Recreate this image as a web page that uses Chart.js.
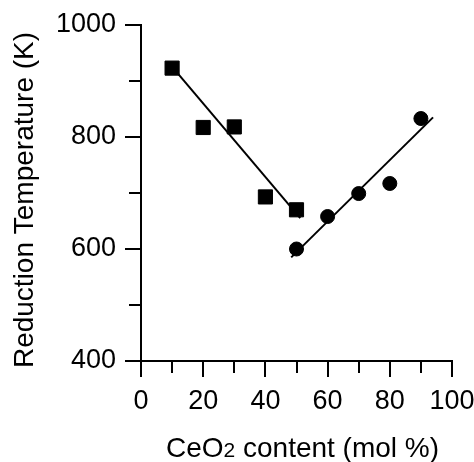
<!DOCTYPE html>
<html>
<head>
<meta charset="utf-8">
<script src="https://cdn.jsdelivr.net/npm/chart.js@4/dist/chart.umd.min.js"></script>
<style>
  html, body { margin: 0; padding: 0; background: #fff; }
  #wrap { width: 474px; height: 462px; }
</style>
</head>
<body>
<div id="wrap"><canvas id="chart" width="474" height="462"></canvas></div>
<script>
// CeO2-rich vs. CeO2-poor samples: reduction temperature against composition
const ceo2Squares = [10, 20, 30, 40, 50];
const tempSquares = [923, 817, 818, 693, 670];
const ceo2Circles = [50, 60, 70, 80, 90];
const tempCircles = [600, 658, 699, 717, 833];

// straight-line fits through each branch (end points)
const fitLeftX = [9.9, 51.2];
const fitLeftY = [926, 655];
const fitRightX = [48.3, 93.9];
const fitRightY = [585, 835];

// axis ticks
const xMajorTicks = [0, 20, 40, 60, 80, 100];
const xMinorTicks = [10, 30, 50, 70, 90];
const yMajorTicks = [400, 600, 800, 1000];
const yMinorTicks = [500, 700, 900];

const yTitle = 'Reduction Temperature (K)';
const xTitleParts = [
  { text: 'CeO', small: false },
  { text: '2', small: true },
  { text: ' content (mol %)', small: false }
];

const FONT = "'Liberation Sans', Arial, Helvetica, sans-serif";
const toPoints = (xs, ys) => xs.map((x, i) => ({ x: x, y: ys[i] }));

// shorter minor ticks and the two axis titles
const extras = {
  id: 'extras',
  afterDraw(chart) {
    const { ctx, chartArea, scales } = chart;
    ctx.save();
    ctx.strokeStyle = '#000';
    ctx.lineWidth = 2;
    ctx.beginPath();
    xMinorTicks.forEach(v => {
      const px = Math.round(scales.x.getPixelForValue(v));
      ctx.moveTo(px, chartArea.bottom);
      ctx.lineTo(px, chartArea.bottom + 12);
    });
    yMinorTicks.forEach(v => {
      const py = Math.round(scales.y.getPixelForValue(v));
      ctx.moveTo(chartArea.left, py);
      ctx.lineTo(chartArea.left - 12, py);
    });
    ctx.stroke();

    ctx.fillStyle = '#000';
    ctx.textBaseline = 'alphabetic';

    // y title, rotated
    ctx.save();
    ctx.translate(33, chartArea.top + 175);
    ctx.rotate(-Math.PI / 2);
    ctx.font = '28px ' + FONT;
    ctx.textAlign = 'center';
    ctx.fillText(yTitle, 0, 0);
    ctx.restore();

    // x title with the smaller "2"
    const big = '28px ' + FONT, small = '21px ' + FONT;
    let total = 0;
    xTitleParts.forEach(p => { ctx.font = p.small ? small : big; total += ctx.measureText(p.text).width; });
    let x = 302.5 - total / 2;
    const baseY = 457;
    ctx.textAlign = 'left';
    xTitleParts.forEach(p => {
      ctx.font = p.small ? small : big;
      ctx.fillText(p.text, x, baseY);
      x += ctx.measureText(p.text).width;
    });
    ctx.restore();
  }
};

const axisCommon = {
  type: 'linear',
  grid: { drawOnChartArea: false, drawTicks: true, tickLength: 16, lineWidth: 2, color: '#000' },
  border: { display: true, color: '#000', width: 2 },
  ticks: { color: '#000', font: { family: FONT, size: 27 }, maxRotation: 0, autoSkip: false, callback: v => String(v) }
};

new Chart(document.getElementById('chart'), {
  type: 'scatter',
  data: {
    datasets: [
      { data: toPoints(ceo2Squares, tempSquares), pointStyle: 'rect', pointRadius: 10, pointHoverRadius: 10,
        backgroundColor: '#000', borderColor: '#000', borderWidth: 1, showLine: false },
      { data: toPoints(ceo2Circles, tempCircles), pointStyle: 'circle', pointRadius: 7, pointHoverRadius: 7,
        backgroundColor: '#000', borderColor: '#000', borderWidth: 1, showLine: false },
      { data: toPoints(fitLeftX, fitLeftY), showLine: true, pointRadius: 0, borderColor: '#000', borderWidth: 2 },
      { data: toPoints(fitRightX, fitRightY), showLine: true, pointRadius: 0, borderColor: '#000', borderWidth: 2 }
    ]
  },
  options: {
    responsive: false,
    animation: false,
    layout: { padding: { top: 25, right: 22, left: 0, bottom: 0 } },
    plugins: { legend: { display: false }, tooltip: { enabled: false } },
    scales: {
      x: Object.assign({}, axisCommon, {
        min: 0, max: 100,
        afterBuildTicks: s => { s.ticks = xMajorTicks.map(v => ({ value: v })); },
        afterFit: s => { s.height = 101; s.paddingLeft = 0; s.paddingRight = 0; },
        ticks: Object.assign({}, axisCommon.ticks, { padding: 8 })
      }),
      y: Object.assign({}, axisCommon, {
        min: 400, max: 1000,
        afterBuildTicks: s => { s.ticks = yMajorTicks.map(v => ({ value: v })); },
        afterFit: s => { s.width = 141; s.paddingTop = 0; s.paddingBottom = 0; },
        ticks: Object.assign({}, axisCommon.ticks, { padding: 9 })
      })
    }
  },
  plugins: [extras]
});
</script>
</body>
</html>
